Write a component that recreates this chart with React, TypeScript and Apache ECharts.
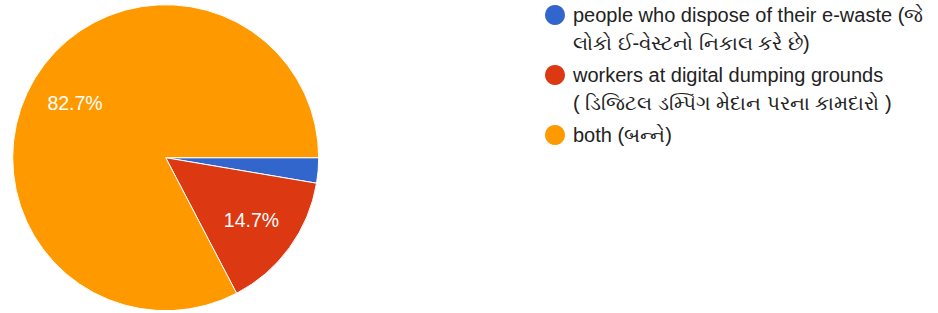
import React, { useEffect, useRef } from "react";
import * as echarts from "echarts";

const categories = [
  "people who dispose of their e-waste (જે\nલોકો ઈ-વેસ્ટનો નિકાલ કરે છે)",
  "workers at digital dumping grounds\n( ડિજિટલ ડમ્પિંગ મેદાન પરના કામદારો )",
  "both (બન્ને)",
];
const counts = [2, 11, 62];
const colors = ["#3366cc", "#dc3912", "#ff9900"];
const minLabelPercent = 5;

export default function App() {
  const ref = useRef<HTMLDivElement>(null);
  useEffect(() => {
    if (!ref.current) return;
    const chart = echarts.init(ref.current, null, { renderer: "svg" });
    const cx = 165.7;
    const cy = 157.7;
    const r = 153;
    const data = categories.map((name, i) => ({
      name,
      value: counts[i],
      itemStyle: { color: colors[i] },
    }));
    const legendItems: any[] = [];
    let top = 1;
    categories.forEach((name, i) => {
      const lines = name.split("\n").length;
      legendItems.push({
        type: "circle",
        shape: { cx: 555, cy: top + 14, r: 10 },
        style: { fill: colors[i] },
      });
      legendItems.push({
        type: "text",
        x: 573,
        y: top,
        style: {
          text: name,
          font: '20px "Liberation Sans", Arial, sans-serif',
          fill: "#222222",
          lineHeight: 28,
          verticalAlign: "top",
          align: "left",
        },
      });
      top += lines * 28 + 4;
    });
    chart.setOption({
      animation: false,
      backgroundColor: "#ffffff",
      graphic: legendItems,
      series: [
        {
          type: "pie",
          center: [cx, cy],
          radius: [0, r],
          startAngle: 0,
          clockwise: true,
          avoidLabelOverlap: false,
          itemStyle: { borderColor: "#ffffff", borderWidth: 1 },
          label: { show: false },
          labelLine: { show: false },
          silent: true,
          data,
        },
        {
          type: "pie",
          center: [cx, cy],
          radius: [0, r * 2 * 0.673],
          startAngle: 0,
          clockwise: true,
          avoidLabelOverlap: false,
          silent: true,
          itemStyle: { color: "rgba(0,0,0,0)", borderWidth: 0 },
          labelLine: { show: false },
          label: {
            show: true,
            position: "inside",
            color: "#ffffff",
            fontSize: 19.5,
            fontFamily: '"Liberation Sans", Arial, sans-serif',
            formatter: (p: any) =>
              p.percent >= minLabelPercent ? p.percent.toFixed(1) + "%" : "",
          },
          data: categories.map((name, i) => ({ name, value: counts[i] })),
        },
      ],
    });
    return () => chart.dispose();
  }, []);
  return (
    <div
      ref={ref}
      style={{ position: "fixed", left: 0, top: 0, width: 938, height: 313 }}
    />
  );
}
